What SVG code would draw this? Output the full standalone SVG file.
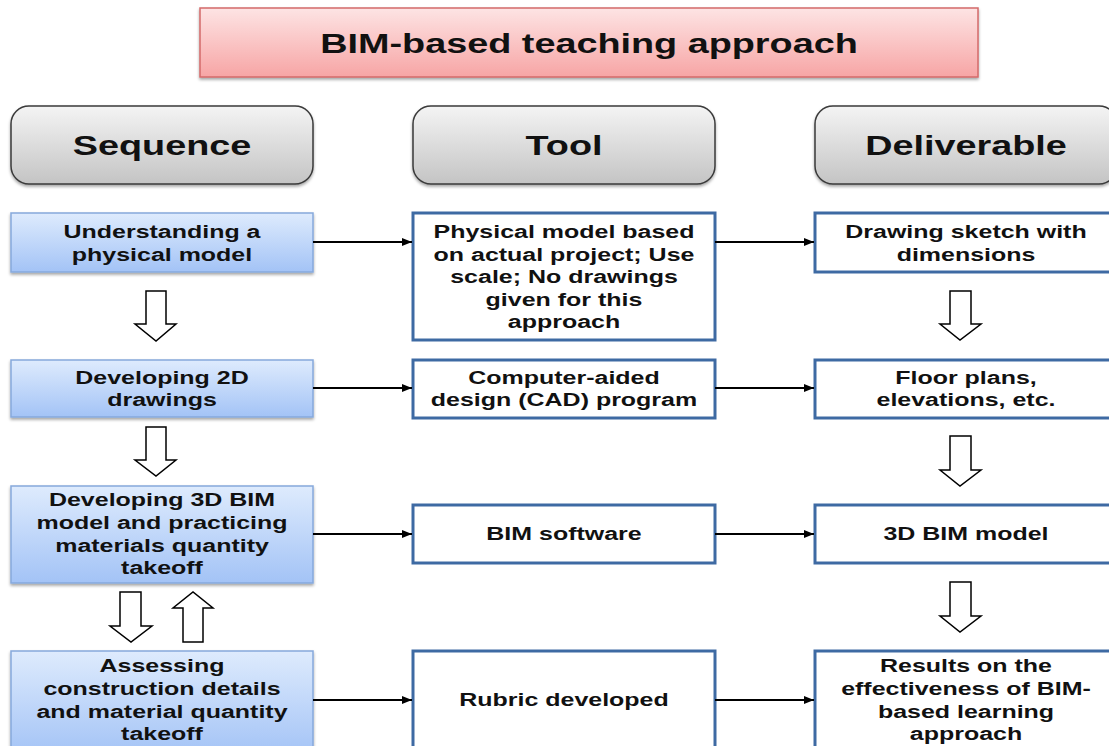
<svg xmlns="http://www.w3.org/2000/svg" width="1109" height="746" viewBox="0 0 1109 746">
<defs>
<linearGradient id="gPink" x1="0" y1="0" x2="0" y2="1"><stop offset="0" stop-color="#fde4e4"/><stop offset="1" stop-color="#f7a5a5"/></linearGradient>
<linearGradient id="gGray" x1="0" y1="0" x2="0" y2="1"><stop offset="0" stop-color="#f4f4f4"/><stop offset="1" stop-color="#c4c4c4"/></linearGradient>
<linearGradient id="gBlue" x1="0" y1="0" x2="0" y2="1"><stop offset="0" stop-color="#deebfd"/><stop offset="1" stop-color="#a3c3f6"/></linearGradient>
<filter id="sh" x="-5%" y="-10%" width="110%" height="130%"><feDropShadow dx="0" dy="2" stdDeviation="1.5" flood-color="#000" flood-opacity="0.35"/></filter>
<marker id="ah" markerWidth="10" markerHeight="8" refX="10" refY="4" orient="auto" markerUnits="userSpaceOnUse"><path d="M0,0 L10,4 L0,8 Z" fill="#000"/></marker>
<style>
text{font-family:"Liberation Sans",Arial,sans-serif;font-weight:bold;fill:#111;text-anchor:middle}
.t{font-size:18.5px}
.h{font-size:28px}
.title{fill:url(#gPink);stroke:#d46a6a;stroke-width:1.5}
.head{fill:url(#gGray);stroke:#3a3a3a;stroke-width:1.5}
.seq{fill:url(#gBlue);stroke:#86a9dc;stroke-width:1.5}
.out{fill:#fff;stroke:#3e6aa3;stroke-width:3}
.con{stroke:#000;stroke-width:2;fill:none}
.blk{fill:#fff;stroke:#000;stroke-width:1.5}
</style>
</defs>
<rect width="1109" height="746" fill="#fff"/>

<g id="title">
<rect class="title" x="200" y="8" width="778" height="69" filter="url(#sh)"/>
<g transform="translate(589,0) scale(1.35,1)"><text class="h" x="0" y="53">BIM-based teaching approach</text></g>
</g>

<g id="head-sequence">
<rect class="head" x="11" y="106" width="302" height="78" rx="18" filter="url(#sh)"/>
<g transform="translate(162,0) scale(1.35,1)"><text class="h" x="0" y="155">Sequence</text></g>
</g>
<g id="head-tool">
<rect class="head" x="413" y="106" width="302" height="78" rx="18" filter="url(#sh)"/>
<g transform="translate(564,0) scale(1.35,1)"><text class="h" x="0" y="155">Tool</text></g>
</g>
<g id="head-deliverable">
<rect class="head" x="815" y="106" width="302" height="78" rx="18" filter="url(#sh)"/>
<g transform="translate(966,0) scale(1.35,1)"><text class="h" x="0" y="155">Deliverable</text></g>
</g>

<g id="seq1">
<rect class="seq" x="11" y="213" width="302" height="59" filter="url(#sh)"/>
<g transform="translate(162,0) scale(1.35,1)"><text class="t" x="0" y="238">Understanding a</text><text class="t" x="0" y="261">physical model</text></g>
</g>
<g id="seq2">
<rect class="seq" x="11" y="360" width="302" height="57" filter="url(#sh)"/>
<g transform="translate(162,0) scale(1.35,1)"><text class="t" x="0" y="384">Developing 2D</text><text class="t" x="0" y="406">drawings</text></g>
</g>
<g id="seq3">
<rect class="seq" x="11" y="486" width="302" height="97" filter="url(#sh)"/>
<g transform="translate(162,0) scale(1.35,1)"><text class="t" x="0" y="506">Developing 3D BIM</text><text class="t" x="0" y="529">model and practicing</text><text class="t" x="0" y="552">materials quantity</text><text class="t" x="0" y="574">takeoff</text></g>
</g>
<g id="seq4">
<rect class="seq" x="11" y="651" width="302" height="105" filter="url(#sh)"/>
<g transform="translate(162,0) scale(1.35,1)"><text class="t" x="0" y="672">Assessing</text><text class="t" x="0" y="695">construction details</text><text class="t" x="0" y="718">and material quantity</text><text class="t" x="0" y="740">takeoff</text></g>
</g>

<g id="tool1">
<rect class="out" x="413" y="213" width="302" height="127"/>
<g transform="translate(564,0) scale(1.35,1)"><text class="t" x="0" y="238">Physical model based</text><text class="t" x="0" y="261">on actual project; Use</text><text class="t" x="0" y="283">scale; No drawings</text><text class="t" x="0" y="306">given for this</text><text class="t" x="0" y="328">approach</text></g>
</g>
<g id="tool2">
<rect class="out" x="413" y="360" width="302" height="58"/>
<g transform="translate(564,0) scale(1.35,1)"><text class="t" x="0" y="384">Computer-aided</text><text class="t" x="0" y="406">design (CAD) program</text></g>
</g>
<g id="tool3">
<rect class="out" x="413" y="505" width="302" height="58"/>
<g transform="translate(564,0) scale(1.35,1)"><text class="t" x="0" y="540">BIM software</text></g>
</g>
<g id="tool4">
<rect class="out" x="413" y="651" width="302" height="105"/>
<g transform="translate(564,0) scale(1.35,1)"><text class="t" x="0" y="706">Rubric developed</text></g>
</g>

<g id="del1">
<rect class="out" x="815" y="213" width="302" height="59"/>
<g transform="translate(966,0) scale(1.35,1)"><text class="t" x="0" y="238">Drawing sketch with</text><text class="t" x="0" y="261">dimensions</text></g>
</g>
<g id="del2">
<rect class="out" x="815" y="360" width="302" height="58"/>
<g transform="translate(966,0) scale(1.35,1)"><text class="t" x="0" y="384">Floor plans,</text><text class="t" x="0" y="406">elevations, etc.</text></g>
</g>
<g id="del3">
<rect class="out" x="815" y="505" width="302" height="58"/>
<g transform="translate(966,0) scale(1.35,1)"><text class="t" x="0" y="540">3D BIM model</text></g>
</g>
<g id="del4">
<rect class="out" x="815" y="651" width="302" height="105"/>
<g transform="translate(966,0) scale(1.35,1)"><text class="t" x="0" y="672">Results on the</text><text class="t" x="0" y="695">effectiveness of BIM-</text><text class="t" x="0" y="718">based learning</text><text class="t" x="0" y="740">approach</text></g>
</g>

<g id="connectors">
<line class="con" x1="313" y1="242" x2="412" y2="242" marker-end="url(#ah)"/>
<line class="con" x1="715" y1="242" x2="814" y2="242" marker-end="url(#ah)"/>
<line class="con" x1="313" y1="388" x2="412" y2="388" marker-end="url(#ah)"/>
<line class="con" x1="715" y1="388" x2="814" y2="388" marker-end="url(#ah)"/>
<line class="con" x1="313" y1="534" x2="412" y2="534" marker-end="url(#ah)"/>
<line class="con" x1="715" y1="534" x2="814" y2="534" marker-end="url(#ah)"/>
<line class="con" x1="313" y1="700" x2="412" y2="700" marker-end="url(#ah)"/>
<line class="con" x1="715" y1="700" x2="814" y2="700" marker-end="url(#ah)"/>
<path class="blk" d="M146,291 H166 V324 H176 L156,341 L135,324 H146 Z"/>
<path class="blk" d="M146,427 H166 V460 H176 L156,476 L135,460 H146 Z"/>
<path class="blk" d="M120,592 H141 V626 H152 L131,642 L110,626 H120 Z"/>
<path class="blk" d="M183,642 H203 V608 H213 L193,592 L173,608 H183 Z"/>
<path class="blk" d="M950,291 H971 V324 H981 L960,340 L940,324 H950 Z"/>
<path class="blk" d="M950,436 H971 V470 H981 L960,486 L940,470 H950 Z"/>
<path class="blk" d="M950,582 H971 V616 H981 L960,632 L940,616 H950 Z"/>
</g>
</svg>
